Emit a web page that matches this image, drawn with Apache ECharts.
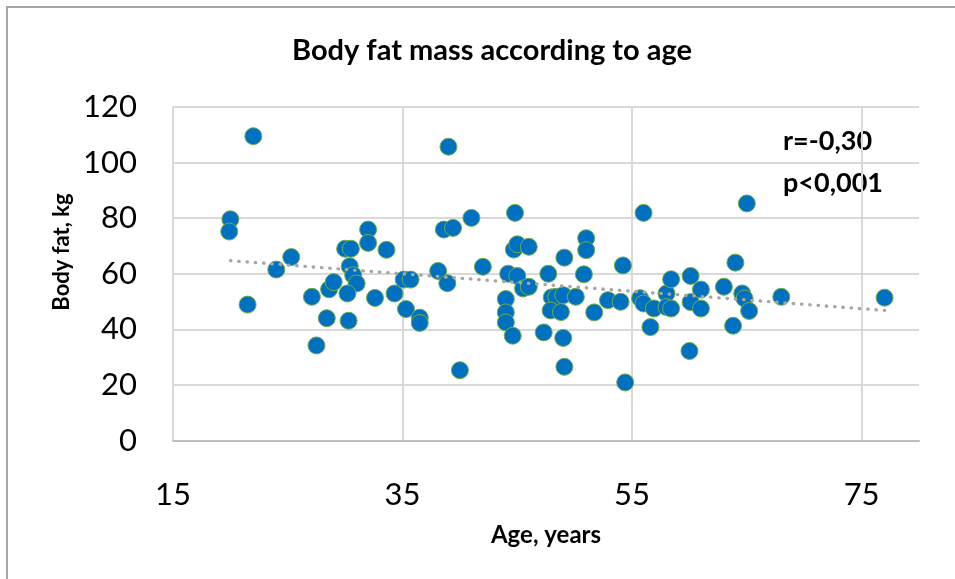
<!DOCTYPE html>
<html>
<head>
<meta charset="utf-8">
<script src="https://cdn.jsdelivr.net/npm/echarts@6/dist/echarts.min.js"></script>
<style>html,body{margin:0;padding:0;background:#fff}#c{width:955px;height:579px}</style>
</head>
<body>
<div id="c"></div>
<script>
const titleText = 'Body fat mass according to age';
const xName = 'Age, years';
const yName = 'Body fat, kg';
const statLines = ['r=-0,30', 'p<0,001'];
const xTicks = [15, 35, 55, 75];
const yTicks = [0, 20, 40, 60, 80, 100, 120];
const ages = [20.0,19.9,22.0,21.5,24.0,25.3,27.1,27.5,28.4,28.6,29.0,30.0,30.5,30.4,30.7,31.0,30.2,30.3,32.0,32.0,33.6,32.6,34.3,35.3,35.1,35.7,36.5,36.5,38.1,38.9,38.6,39.4,39.0,41.0,40.0,42.0,44.0,44.0,44.0,44.6,44.2,45.0,44.7,45.0,46.0,44.8,45.5,46.0,47.3,47.7,48.0,48.4,49.0,50.1,47.9,48.8,49.0,49.1,49.1,51.0,51.0,50.8,51.7,52.9,54.0,54.2,54.4,55.7,56.0,56.9,56.6,56.0,58.0,58.0,58.4,58.4,60.1,60.1,61.0,61.0,60.0,63.0,64.0,63.8,64.6,64.8,65.2,65.0,68.0,77.0];
const fat = [79.6,75.2,109.5,48.9,61.5,66.0,51.7,34.2,44.0,54.4,57.0,69.0,69.0,62.7,59.5,56.5,52.9,43.1,75.9,71.1,68.6,51.3,52.9,47.3,57.9,57.9,44.2,42.3,61.0,56.6,75.9,76.5,105.7,80.1,25.3,62.5,50.9,46.1,42.5,37.7,60.0,59.2,68.7,70.6,69.7,81.9,54.7,55.3,38.9,60.0,51.5,51.7,52.3,51.7,46.8,46.2,36.9,26.5,65.8,72.8,68.5,59.8,46.1,50.5,49.9,63.0,20.9,51.2,49.3,47.5,40.8,81.9,52.9,48.0,47.5,58.0,59.2,49.8,54.3,47.5,32.2,55.3,64.0,41.3,52.9,51.1,46.6,85.3,51.7,51.4];
const trendAges = [20.0, 77.0];
const trendFat = [64.7, 46.8];

const points = ages.map((a, i) => [a, fat[i]]);
const trend = trendAges.map((a, i) => [a, trendFat[i]]);
const FONT = 'Lato, "Noto Sans", sans-serif';

const chart = echarts.init(document.getElementById('c'), null, {renderer: 'canvas'});
chart.setOption({
  animation: false,
  backgroundColor: '#ffffff',
  title: {
    text: titleText,
    left: 487, top: 31, textAlign: 'center',
    textStyle: {fontFamily: FONT, fontWeight: 'bold', fontSize: 29, color: '#000'}
  },
  grid: {left: 173, right: 36, top: 107, bottom: 138.5, containLabel: false},
  xAxis: {
    type: 'value', min: 15, max: 80, interval: 20,
    name: xName, nameLocation: 'middle', nameGap: 83,
    nameTextStyle: {fontFamily: FONT, fontWeight: 'bold', fontSize: 24, color: '#000'},
    axisLine: {show: true, lineStyle: {color: '#bfbfbf', width: 2}},
    axisTick: {show: false},
    axisLabel: {fontFamily: FONT, fontSize: 31, color: '#000', margin: 39, showMaxLabel: false,
      formatter: v => xTicks.includes(v) ? String(v) : ''},
    splitLine: {show: true, showMaxLine: false, lineStyle: {color: '#d9d9d9', width: 2}}
  },
  yAxis: {
    type: 'value', min: 0, max: 120, interval: 20,
    axisLine: {show: false},
    axisTick: {show: false},
    axisLabel: {fontFamily: FONT, fontSize: 31, color: '#000', margin: 36,
      formatter: v => yTicks.includes(v) ? String(v) : ''},
    splitLine: {show: true, lineStyle: {color: '#d9d9d9', width: 2}}
  },
  graphic: [
    {type: 'rect', shape: {x: 7, y: 7, width: 1200, height: 1200}, style: {fill: 'none', stroke: '#a6a6a6', lineWidth: 2}, z: 100, silent: true},
    {type: 'text', x: 62, y: 252, rotation: Math.PI / 2, style: {text: yName, fontFamily: FONT, fontWeight: 'bold', fontSize: 22, fill: '#000', textAlign: 'center', textVerticalAlign: 'middle'}},
    {type: 'text', x: 783, y: 141, style: {text: statLines[0], fontFamily: FONT, fontWeight: 'bold', fontSize: 27, fill: '#000', textAlign: 'left', textVerticalAlign: 'middle'}},
    {type: 'text', x: 783, y: 183, style: {text: statLines[1], fontFamily: FONT, fontWeight: 'bold', fontSize: 27, fill: '#000', textAlign: 'left', textVerticalAlign: 'middle'}}
  ],
  series: [
    {
      type: 'scatter', data: points, symbol: 'circle', symbolSize: 17, z: 2,
      itemStyle: {color: '#0070C0', borderColor: '#70AD47', borderWidth: 1, opacity: 1}
    },
    {
      type: 'line', data: trend, symbol: 'none', z: 3,
      lineStyle: {color: '#a6a6a6', width: 3.3, type: [0.5, 7.8], cap: 'round'}
    }
  ]
});
</script>
</body>
</html>
